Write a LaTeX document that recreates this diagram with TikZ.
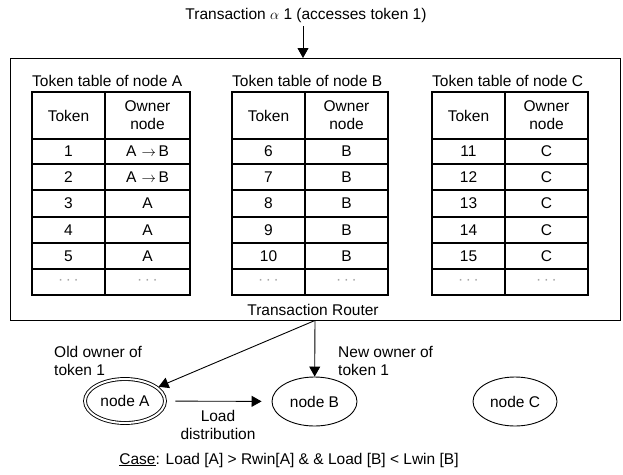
\documentclass[tikz,border=0pt]{standalone}
\usepackage{fontspec}
\setmainfont{Liberation Sans}
\usetikzlibrary{arrows.meta,shapes.geometric}
\tikzset{
  txt/.style={font=\fontsize{15.5}{18}\selectfont, inner sep=0pt},
  tline/.style={line width=1.5pt},
  dotrow/.style={txt, text=gray!70},
  ell/.style={ellipse, draw, line width=0.9pt, inner sep=0pt, font=\fontsize{15.5}{18}\selectfont},
  arr/.style={-{Triangle[length=10pt,width=11pt]}, line width=0.9pt},
}
\begin{document}
\begin{tikzpicture}[x=1pt,y=-1pt]
\useasboundingbox (0,0) rectangle (623,474);
% outer router box
\node[draw, line width=0.9pt, minimum width=610pt, minimum height=262pt, inner sep=0pt] (router) at (315,189) {};
\node[txt] (routerlbl) at (313,310) {Transaction Router};
% incoming transaction
\node[txt] (title) at (306,15) {Transaction $\alpha$ 1 (accesses token 1)};
\coordinate (in) at (303,58);
\draw[arr, shorten <=4pt] (title.south -| in) -- (in);
% token tables
\foreach \L/\D/\R/\n/\s in {32/105/190/A/0, 232/305/388/B/5, 432/505/588/C/10}{
  \draw[tline] (\L,92) rectangle (\R,295);
  \draw[tline] (\D,92) -- (\D,295);
  \foreach \y in {139,164,190,217,243,269} \draw[tline] (\L,\y) -- (\R,\y);
  \node[txt, anchor=west] (title\n) at (\L,81) {Token table of node \n};
  \node[txt] (hd\n1) at ({(\L+\D)/2},115.5) {Token};
  \node[txt, align=center] (hd\n2) at ({(\D+\R)/2},115.5) {Owner\\node};
  \foreach \i/\y in {1/151.5,2/177,3/203.5,4/230,5/256}{
    \pgfmathtruncatemacro\tok{\s+\i}
    \node[txt] (tok\n\i) at ({(\L+\D)/2},\y) {\tok};
    \node[txt] (own\n\i) at ({(\D+\R)/2},\y) {\ifnum\tok<3 A\,\,$\rightarrow$\,B\else\n\fi};
  }
  \node[dotrow] (dt\n1) at ({(\L+\D)/2},282) {·\,·\,·};
  \node[dotrow] (dt\n2) at ({(\D+\R)/2},282) {·\,·\,·};
}
% processing nodes
\node[ell, double, double distance=2pt, minimum width=80pt, minimum height=44pt] (nA) at (125,401) {node A};
\node[ell, minimum width=85pt, minimum height=49pt] (nB) at (314.5,401.5) {node B};
\node[ell, minimum width=84pt, minimum height=49pt] (nC) at (515,401.5) {node C};
% labels
\node[txt, align=left, anchor=west] (oldlbl) at (54,361) {Old owner of\\token 1};
\node[txt, align=left, anchor=west] (newlbl) at (338,361) {New owner of\\token 1};
\node[txt, align=center] (loadlbl) at (218,425) {Load\\distribution};
\node[txt] (caselbl) at (289,460) {\underline{Case}: Load [A] > Rwin[A] \& \& Load [B] < Lwin [B]};
% connectors
\draw[arr] (router.south) -- (nB);
\draw[arr, shorten >=1.5pt] (router.south) -- (nA);
\draw[arr, shorten <=10pt, shorten >=10pt] (nA) -- (nB);
\end{tikzpicture}
\end{document}
